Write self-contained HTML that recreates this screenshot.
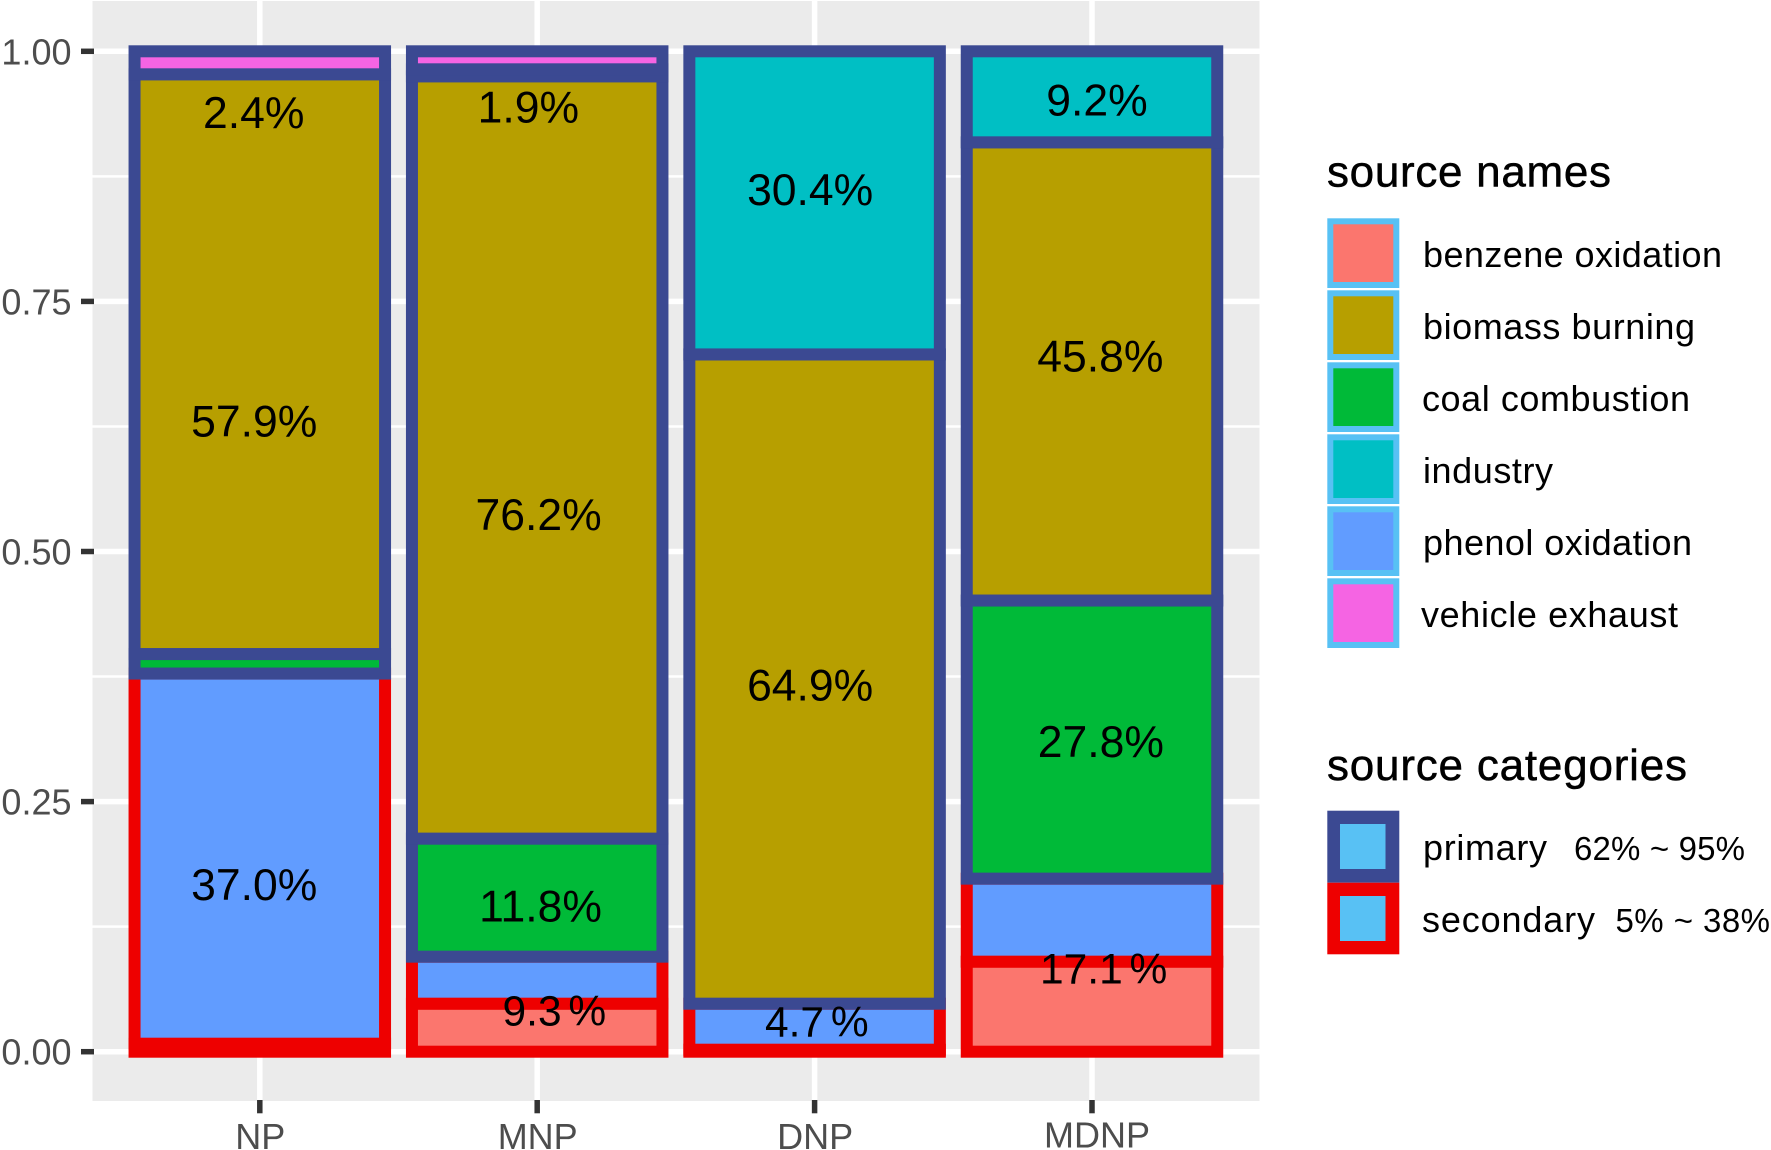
<!DOCTYPE html>
<html lang="en">
<head>
<meta charset="utf-8">
<title>Source contributions stacked bars</title>
<style>
html,body{margin:0;padding:0;background:#fff;width:1771px;height:1150px;overflow:hidden}
svg{display:block}
text{font-family:"Liberation Sans",sans-serif}
</style>
</head>
<body>
<svg id="chart" xmlns="http://www.w3.org/2000/svg" width="1771" height="1150" viewBox="0 0 1771 1150">
  <rect x="92.5" y="1" width="1167" height="1100" fill="#EBEBEB"/>
  <g id="grid"></g>
  <g id="bars"></g>
  <g id="labels"></g>
  <g id="axes"></g>

  <g>
    <text x="1327" y="186.5" font-size="44" textLength="284" lengthAdjust="spacing" fill="#000" stroke="#000" stroke-width="0.5">source names</text>
    <g>
      <rect x="1330.3" y="221.3" width="66" height="63.7" fill="#FB766E" stroke="#58C1F4" stroke-width="6"/>
      <text x="1423" y="267" font-size="36" textLength="299" lengthAdjust="spacing" fill="#000">benzene oxidation</text>
    </g>
    <g>
      <rect x="1330.3" y="293.3" width="66" height="63.7" fill="#B79F00" stroke="#58C1F4" stroke-width="6"/>
      <text x="1423" y="339" font-size="36" textLength="272" lengthAdjust="spacing" fill="#000">biomass burning</text>
    </g>
    <g>
      <rect x="1330.3" y="365.3" width="66" height="63.7" fill="#00BA38" stroke="#58C1F4" stroke-width="6"/>
      <text x="1422" y="411" font-size="36" textLength="268" lengthAdjust="spacing" fill="#000">coal combustion</text>
    </g>
    <g>
      <rect x="1330.3" y="437.3" width="66" height="63.7" fill="#00BFC4" stroke="#58C1F4" stroke-width="6"/>
      <text x="1423" y="483" font-size="36" textLength="130" lengthAdjust="spacing" fill="#000">industry</text>
    </g>
    <g>
      <rect x="1330.3" y="509.3" width="66" height="63.7" fill="#619CFF" stroke="#58C1F4" stroke-width="6"/>
      <text x="1423" y="555" font-size="36" textLength="269" lengthAdjust="spacing" fill="#000">phenol oxidation</text>
    </g>
    <g>
      <rect x="1330.3" y="581.3" width="66" height="63.7" fill="#F564E3" stroke="#58C1F4" stroke-width="6"/>
      <text x="1421" y="627" font-size="36" textLength="257" lengthAdjust="spacing" fill="#000">vehicle exhaust</text>
    </g>
  </g>

  <g>
    <text x="1327" y="780" font-size="44" textLength="360" lengthAdjust="spacing" fill="#000" stroke="#000" stroke-width="0.5">source categories</text>
    <g>
      <rect x="1327.3" y="810.7" width="72" height="72" fill="#3B4992"/>
      <rect x="1340" y="824" width="45.5" height="45" fill="#58C1F4"/>
      <text x="1423" y="860" font-size="36" textLength="124" lengthAdjust="spacing" fill="#000">primary</text>
      <text x="1574" y="860" font-size="33" textLength="171" lengthAdjust="spacing" fill="#000">62% ~ 95%</text>
    </g>
    <g>
      <rect x="1327.3" y="882.7" width="72" height="71.6" fill="#EE0000"/>
      <rect x="1340" y="896" width="45.5" height="45" fill="#58C1F4"/>
      <text x="1422" y="932" font-size="36" textLength="173" lengthAdjust="spacing" fill="#000">secondary</text>
      <text x="1615.5" y="932" font-size="33" textLength="154.5" lengthAdjust="spacing" fill="#000">5% ~ 38%</text>
    </g>
  </g>
</svg>

<script>
// Chart data
const categories = ['NP', 'MNP', 'DNP', 'MDNP'];
const benzeneOxidation = [0.008, 0.048, 0.002, 0.090];
const phenolOxidation = [0.370, 0.047, 0.046, 0.083];
const coalCombustion = [0.0195, 0.118, 0, 0.278];
const biomassBurning = [0.5795, 0.762, 0.649, 0.458];
const industry = [0, 0.007, 0.303, 0.091];
const vehicleExhaust = [0.023, 0.018, 0, 0];
const yTickValues = [0, 0.25, 0.5, 0.75, 1];
const yTickLabels = ['0.00', '0.25', '0.50', '0.75', '1.00'];
const yMinorValues = [0.125, 0.375, 0.625, 0.875];

// Printed percentages and where they were annotated, in axis units
// (x: 1-based category position, y: fraction on the y axis)
const labelText = ['2.4%', '57.9%', '37.0%', '1.9%', '76.2%', '11.8%', '9.3 %', '30.4%', '64.9%', '4.7 %', '9.2%', '45.8%', '27.8%', '17.1 %'];
const labelCategoryPos = [0.978, 0.98, 0.98, 1.968, 2.005, 2.012, 2.062, 2.984, 2.984, 3.008, 4.018, 4.03, 4.032, 4.042];
const labelValuePos = [0.9393, 0.6307, 0.1674, 0.9448, 0.5377, 0.1459, 0.042, 0.8626, 0.3672, 0.031, 0.952, 0.6957, 0.3108, 0.084];

const NS = 'http://www.w3.org/2000/svg';
const xScale = function (pos) { return 259.8 + (pos - 1) * 277.4; };
const yScale = function (v) { return 1051.7 - v * 1000.4; };
const BAR_W = 250.5;

function make(tag, parent, attrs) {
  const el = document.createElementNS(NS, tag);
  Object.keys(attrs).forEach(function (k) { el.setAttribute(k, attrs[k]); });
  parent.appendChild(el);
  return el;
}

// Gridlines
const grid = document.getElementById('grid');
yMinorValues.forEach(function (v) {
  const l = make('line', grid, { x1: 92.5, x2: 1259.5, y1: yScale(v), y2: yScale(v), stroke: '#fff', 'stroke-width': 2.5 });
  
  
});
yTickValues.forEach(function (v) {
  const l = make('line', grid, { x1: 92.5, x2: 1259.5, y1: yScale(v), y2: yScale(v), stroke: '#fff', 'stroke-width': 5.5 });
  
  
});
categories.forEach(function (c, i) {
  const l = make('line', grid, { x1: xScale(i + 1), x2: xScale(i + 1), y1: 1, y2: 1101, stroke: '#fff', 'stroke-width': 5.5 });
  
  
});

// Stacked bars: drawn from the bottom of the stack upward
const stack = [
  { key: 'benzene-oxidation', values: benzeneOxidation, fill: '#FB766E', stroke: '#EE0000' },
  { key: 'phenol-oxidation', values: phenolOxidation, fill: '#619CFF', stroke: '#EE0000' },
  { key: 'coal-combustion', values: coalCombustion, fill: '#00BA38', stroke: '#3B4992' },
  { key: 'biomass-burning', values: biomassBurning, fill: '#B79F00', stroke: '#3B4992' },
  { key: 'industry', values: industry, fill: '#00BFC4', stroke: '#3B4992' },
  { key: 'vehicle-exhaust', values: vehicleExhaust, fill: '#F564E3', stroke: '#3B4992' }
];
const bars = document.getElementById('bars');
categories.forEach(function (cat, i) {
  let base = 0;
  stack.forEach(function (s) {
    const v = s.values[i];
    if (v <= 0) return;
    const top = base + v;
    const r = make('rect', bars, {
      x: xScale(i + 1) - BAR_W / 2,
      y: yScale(top),
      width: BAR_W,
      height: yScale(base) - yScale(top),
      fill: s.fill,
      stroke: s.stroke,
      'stroke-width': 12
    });
    
    
    base = top;
  });
});

// Percent labels (labels with a gap before % are set slightly tighter, as in the figure)
const labels = document.getElementById('labels');
labelText.forEach(function (t, i) {
  const spaced = t.indexOf(' ') >= 0;
  const el = make('text', labels, {
    x: xScale(labelCategoryPos[i]),
    y: yScale(labelValuePos[i]) + 16,
    'text-anchor': 'middle',
    'font-size': spaced ? 42.5 : 44.5,
    'word-spacing': spaced ? -5 : 0,
    fill: '#000'
  });
  
  
  el.textContent = t;
});

// Axes
const axes = document.getElementById('axes');
yTickValues.forEach(function (v, i) {
  const tick = make('line', axes, { x1: 81, x2: 94, y1: yScale(v), y2: yScale(v), stroke: '#333', 'stroke-width': 5.5 });
  
  
  const lab = make('text', axes, { x: 71.5, y: yScale(v) + 13, 'text-anchor': 'end', 'font-size': 36, fill: '#4D4D4D' });
  
  
  lab.textContent = yTickLabels[i];
});
categories.forEach(function (c, i) {
  const x = xScale(i + 1);
  const tick = make('line', axes, { x1: x, x2: x, y1: 1100, y2: 1113.3, stroke: '#333', 'stroke-width': 5.5 });
  
  
  // the last label sits slightly right of and above its tick in the figure
  const isLast = i === categories.length - 1;
  const lab = make('text', axes, { x: x + (isLast ? 5 : 0.5), y: isLast ? 1147.3 : 1149, 'text-anchor': 'middle', 'font-size': 36, fill: '#4D4D4D' });
  
  
  lab.textContent = c;
});
</script>
</body>
</html>
